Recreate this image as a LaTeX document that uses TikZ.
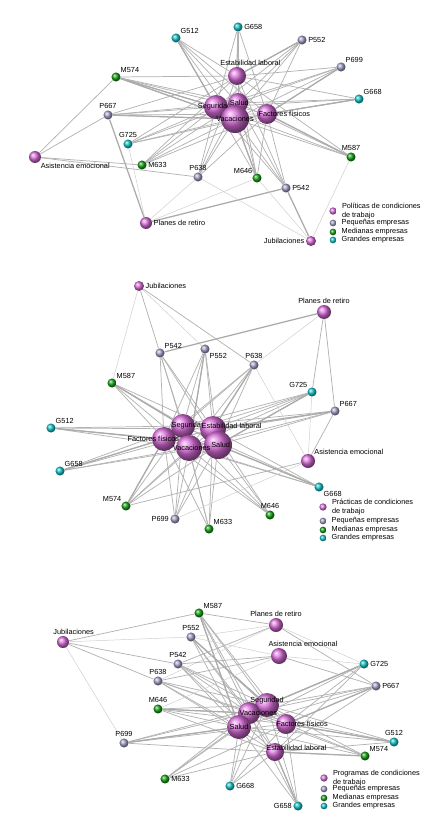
\documentclass[tikz,border=0pt]{standalone}
\usepackage{fontspec}
\setmainfont{Liberation Sans}
\usetikzlibrary{positioning, shadings}
\pgfdeclarelayer{edges}
\pgfsetlayers{edges,main}

\definecolor{polcol}{RGB}{218,110,218}
\definecolor{peqcol}{RGB}{160,160,200}
\definecolor{medcol}{RGB}{20,160,20}
\definecolor{grancol}{RGB}{20,195,200}

\begin{document}
\begin{tikzpicture}[
    x=0.75pt, y=-0.75pt,
    lbl/.style={font=\fontsize{5.5}{6.6}\selectfont, inner sep=0.6pt, text=black},
    every label/.style={lbl},
    label distance=0.3pt,
    pol/.style={circle, shading=ball, ball color=polcol, minimum size=#1, inner sep=0pt},
    firm/.style={circle, shading=ball, ball color=#1, minimum size=6.8pt, inner sep=0pt},
    peq/.style={firm=peqcol},
    med/.style={firm=medcol},
    gran/.style={firm=grancol},
    edgelite/.style={draw=black!20, line width=0.35pt},
    edgemid/.style={draw=black!30, line width=0.55pt},
    edgeheavy/.style={draw=black!33, line width=0.95pt}
]
\useasboundingbox (0,0) rectangle (435,831);

% ---------- Politicas ----------
\node[gran, label={above right:G512}] (aG512) at (176,38) {};
\node[gran, label={right:G658}] (aG658) at (238,27) {};
\node[peq, label={right:P552}] (aP552) at (302,40) {};
\node[peq, label={above right:P699}] (aP699) at (341,67) {};
\node[gran, label={above right:G668}] (aG668) at (359,99) {};
\node[med, label={above right:M574}] (aM574) at (116,77) {};
\node[peq, label={above:P667}] (aP667) at (108,115) {};
\node[gran, label={above:G725}] (aG725) at (128,144) {};
\node[med, label={right:M633}] (aM633) at (142,165) {};
\node[peq, label={above:P638}] (aP638) at (198,177) {};
\node[med, label={above left:M646}] (aM646) at (257,178) {};
\node[peq, label={right:P542}] (aP542) at (286,188) {};
\node[med, label={above:M587}] (aM587) at (351,157) {};

\node[pol=13.5pt, label={[xshift=10pt]above:Estabilidad laboral}] (aEst) at (237,76) {};
\node[pol=18pt, label={[xshift=-1pt]center:Seguridad}] (aSeg) at (216,107) {};
\node[pol=15pt, label={[xshift=1pt]center:Salud}] (aSal) at (238,103) {};
\node[pol=21pt, label={center:Vacaciones}] (aVac) at (235,119) {};
\node[pol=15pt, label={[xshift=13pt]center:Factores físicos}] (aFac) at (267,114) {};
\node[pol=9pt, label={below right:Asistencia emocional}] (aAsi) at (35,157) {};
\node[pol=9pt, label={right:Planes de retiro}] (aPla) at (146,223) {};
\node[pol=7.5pt, label={left:Jubilaciones}] (aJub) at (311,241) {};

\node[pol=5.5pt] (aKeyPol) at (333,211) {};
\node[lbl, align=left, right=3pt of aKeyPol] (aKeyPolT) {Políticas de condiciones\\de trabajo};
\node[peq, minimum size=5pt] (aKeyPeq) at (333,223) {};
\node[lbl, right=3pt of aKeyPeq] (aKeyPeqT) {Pequeñas empresas};
\node[med, minimum size=5pt] (aKeyMed) at (333,232) {};
\node[lbl, right=3pt of aKeyMed] (aKeyMedT) {Medianas empresas};
\node[gran, minimum size=5pt] (aKeyGran) at (333,240) {};
\node[lbl, right=3pt of aKeyGran] (aKeyGranT) {Grandes empresas};

% ---------- Practicas ----------
\node[peq, label={above right:P542}] (bP542) at (160,353) {};
\node[peq, label={below right:P552}] (bP552) at (205,349) {};
\node[peq, label={above:P638}] (bP638) at (254,365) {};
\node[med, label={above right:M587}] (bM587) at (112,383) {};
\node[gran, label={above left:G725}] (bG725) at (312,392) {};
\node[peq, label={above right:P667}] (bP667) at (335,411) {};
\node[gran, label={above right:G512}] (bG512) at (51,428) {};
\node[gran, label={above right:G658}] (bG658) at (60,471) {};
\node[gran, label={below right:G668}] (bG668) at (319,487) {};
\node[med, label={above left:M574}] (bM574) at (126,506) {};
\node[peq, label={left:P699}] (bP699) at (175,519) {};
\node[med, label={above right:M633}] (bM633) at (209,529) {};
\node[med, label={above:M646}] (bM646) at (270,515) {};

\node[pol=18pt, label={[xshift=-8pt]center:Factores físicos}] (bFac) at (164,439) {};
\node[pol=18pt, label={[xshift=4pt]center:Seguridad}] (bSeg) at (183,426) {};
\node[pol=19.5pt, label={[xshift=14pt,yshift=2pt]center:Estabilidad laboral}] (bEst) at (213,429) {};
\node[pol=21pt, label={[xshift=2pt]center:Salud}] (bSal) at (218,445) {};
\node[pol=19.5pt, label={[xshift=2pt]center:Vacaciones}] (bVac) at (189,448) {};
\node[pol=10.5pt, label={above right:Asistencia emocional}] (bAsi) at (308,461) {};
\node[pol=10.5pt, label={above:Planes de retiro}] (bPla) at (324,312) {};
\node[pol=7.5pt, label={right:Jubilaciones}] (bJub) at (139,286) {};

\node[pol=5.5pt] (bKeyPol) at (323,507) {};
\node[lbl, align=left, right=3pt of bKeyPol] (bKeyPolT) {Prácticas de condiciones\\de trabajo};
\node[peq, minimum size=5pt] (bKeyPeq) at (323,521) {};
\node[lbl, right=3pt of bKeyPeq] (bKeyPeqT) {Pequeñas empresas};
\node[med, minimum size=5pt] (bKeyMed) at (323,530) {};
\node[lbl, right=3pt of bKeyMed] (bKeyMedT) {Medianas empresas};
\node[gran, minimum size=5pt] (bKeyGran) at (323,538) {};
\node[lbl, right=3pt of bKeyGran] (bKeyGranT) {Grandes empresas};

% ---------- Programas ----------
\node[med, label={above right:M587}] (cM587) at (199,613) {};
\node[peq, label={above:P552}] (cP552) at (191,637) {};
\node[peq, label={above:P542}] (cP542) at (178,664) {};
\node[gran, label={right:G725}] (cG725) at (364,664) {};
\node[peq, label={above:P638}] (cP638) at (158,681) {};
\node[peq, label={right:P667}] (cP667) at (376,686) {};
\node[med, label={above:M646}] (cM646) at (158,709) {};
\node[peq, label={above:P699}] (cP699) at (124,743) {};
\node[gran, label={above:G512}] (cG512) at (394,742) {};
\node[med, label={above right:M574}] (cM574) at (365,756) {};
\node[med, label={right:M633}] (cM633) at (165,779) {};
\node[gran, label={right:G668}] (cG668) at (230,786) {};
\node[gran, label={left:G658}] (cG658) at (298,806) {};

\node[pol=18pt, label={[yshift=3pt]center:Seguridad}] (cSeg) at (267,705) {};
\node[pol=16.5pt, label={[xshift=7pt]center:Vacaciones}] (cVac) at (249,713) {};
\node[pol=18pt, label={center:Salud}] (cSal) at (239,727) {};
\node[pol=15pt, label={[xshift=12pt]center:Factores físicos}] (cFac) at (286,724) {};
\node[pol=13.5pt, label={[xshift=16pt,yshift=3pt]center:Estabilidad laboral}] (cEst) at (275,752) {};
\node[pol=12pt, label={[xshift=18pt]above:Asistencia emocional}] (cAsi) at (279,656) {};
\node[pol=10.5pt, label={above:Planes de retiro}] (cPla) at (276,625) {};
\node[pol=9pt, label={[xshift=8pt]above:Jubilaciones}] (cJub) at (63,642) {};

\node[pol=5.5pt] (cKeyPol) at (324,778) {};
\node[lbl, align=left, right=3pt of cKeyPol] (cKeyPolT) {Programas de condiciones\\de trabajo};
\node[peq, minimum size=5pt] (cKeyPeq) at (324,789) {};
\node[lbl, right=3pt of cKeyPeq] (cKeyPeqT) {Pequeñas empresas};
\node[med, minimum size=5pt] (cKeyMed) at (324,798) {};
\node[lbl, right=3pt of cKeyMed] (cKeyMedT) {Medianas empresas};
\node[gran, minimum size=5pt] (cKeyGran) at (324,806) {};
\node[lbl, right=3pt of cKeyGran] (cKeyGranT) {Grandes empresas};

% ---------- connectors ----------
\begin{pgfonlayer}{edges}
\foreach \g in {a,b,c}
  \foreach \f in {G512,G658,P552,P699,G668,M574,P667,G725,M633,P638,M646,P542,M587}
    \foreach \p in {Est,Seg,Sal,Vac,Fac}
      \draw[edgemid] (\g\f) -- (\g\p);
% heavier and peripheral ties
\foreach \f/\p/\w in {M574/Seg/edgeheavy, M574/Vac/edgeheavy, G512/Seg/edgeheavy, P552/Est/edgeheavy,
    P699/Fac/edgeheavy, G668/Fac/edgeheavy, P667/Vac/edgeheavy, M587/Fac/edgeheavy, M646/Vac/edgeheavy,
    P542/Pla/edgeheavy, P667/Pla/edgeheavy, P542/Jub/edgeheavy, M574/Asi/edgemid, P667/Asi/edgemid,
    M633/Asi/edgemid, P638/Asi/edgemid, G725/Pla/edgelite, P638/Pla/edgelite, M646/Pla/edgelite,
    M587/Jub/edgelite, P638/Jub/edgelite, M646/Jub/edgelite}
  \draw[\w] (a\f) -- (a\p);
\foreach \f/\p/\w in {G512/Fac/edgeheavy, G658/Fac/edgeheavy, M587/Seg/edgeheavy, P552/Vac/edgeheavy,
    P638/Est/edgeheavy, G725/Sal/edgeheavy, P667/Est/edgeheavy, G668/Sal/edgeheavy, M574/Fac/edgeheavy,
    M587/Jub/edgelite, P542/Jub/edgemid, P552/Jub/edgelite, P638/Jub/edgemid,
    P542/Pla/edgeheavy, P638/Pla/edgelite, G725/Pla/edgemid, P667/Pla/edgemid,
    P667/Asi/edgemid, G725/Asi/edgelite, M574/Asi/edgemid, P638/Asi/edgelite, P699/Asi/edgelite}
  \draw[\w] (b\f) -- (b\p);
\foreach \f/\p/\w in {M587/Sal/edgeheavy, P552/Seg/edgeheavy, G725/Seg/edgeheavy, P667/Fac/edgeheavy,
    P699/Sal/edgeheavy, G512/Fac/edgeheavy, M574/Est/edgeheavy, G658/Est/edgeheavy, M646/Vac/edgeheavy,
    M587/Jub/edgemid, P552/Jub/edgelite, P542/Jub/edgemid, P638/Jub/edgemid, P699/Jub/edgelite,
    M587/Pla/edgemid, P552/Pla/edgelite, P542/Pla/edgemid, P638/Pla/edgelite, G725/Pla/edgelite,
    P667/Pla/edgemid, P542/Asi/edgemid, P638/Asi/edgemid, G725/Asi/edgelite, P667/Asi/edgemid,
    M646/Asi/edgelite, P552/Asi/edgelite}
  \draw[\w] (c\f) -- (c\p);
\end{pgfonlayer}
\end{tikzpicture}
\end{document}
